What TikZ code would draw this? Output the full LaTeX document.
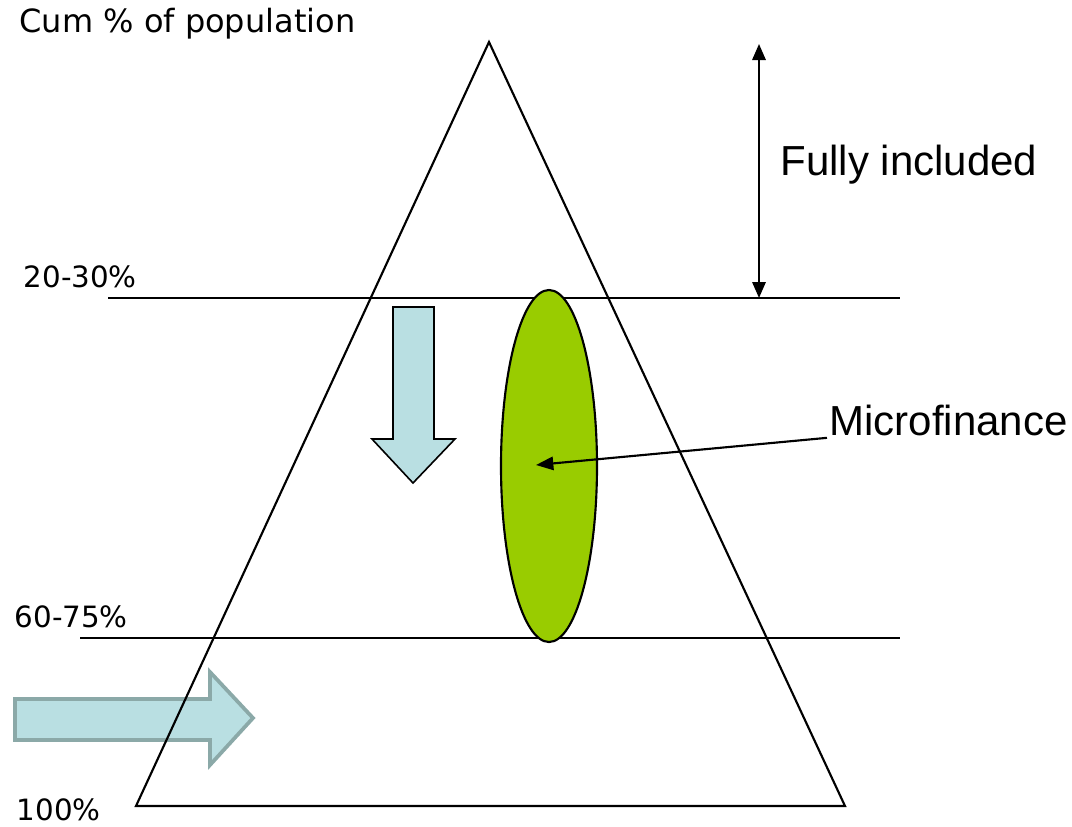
\documentclass[tikz,border=0pt]{standalone}
\usepackage{fontspec}
\usepackage{tikz}
\usetikzlibrary{arrows.meta,shapes.geometric}
\newfontfamily\tahfont{DejaVu Sans}
\newfontfamily\arfont{Liberation Sans}
\definecolor{MicroGreen}{HTML}{99CC00}
\definecolor{FlowCyan}{HTML}{B9DFE2}
\definecolor{FlowEdge}{HTML}{8BA9A8}

\begin{document}
\begin{tikzpicture}[x=0.75pt, y=-0.75pt, line width=1.6pt]
    \useasboundingbox (0,0) rectangle (1072,826);
    % flow arrows
    \fill[FlowCyan, draw=FlowEdge, line width=2.8pt, line join=miter]
      (15,699) -- (210,699) -- (210,672) -- (253,718) -- (210,765)
      -- (210,740) -- (15,740) -- cycle;
    \fill[FlowCyan, draw=black, line width=1.2pt, line join=miter]
      (393,307) -- (434,307) -- (434,439) -- (455,439) -- (413,483)
      -- (372,439) -- (393,439) -- cycle;
    % pyramid
    \coordinate (apex) at (489,42);
    \coordinate (bl) at (136,806);
    \coordinate (br) at (845,806);
    \draw (apex) -- (bl) -- (br) -- cycle;
    \foreach \name/\x/\y in {lineA/108/298, lineB/80/638} {
      \coordinate (\name) at (\x,\y);
    }
    \coordinate (lineAend) at (900,298);
    \coordinate (lineBend) at (900,638);
    \draw (lineA) -- (lineAend);
    \draw (lineB) -- (lineBend);
    % labels on the left
    \node[font=\tahfont\fontsize{24}{27}\selectfont, anchor=west] (cum) at (14,24) {Cum \% of population};
    \foreach \name/\x/\y/\txt in {pA/20/277/20-30\%, pB/11/617/60-75\%, pC/13/810/100\%} {
      \node[font=\tahfont\fontsize{22}{25}\selectfont, anchor=west, inner sep=2pt] (\name) at (\x,\y) {\txt};
    }
    % microfinance
    \node[ellipse, draw=black, fill=MicroGreen, line width=1.6pt,
      minimum width=72pt, minimum height=264pt, inner sep=0pt] (micro) at (549,466) {};
    \coordinate (microtip) at (536,465);
    \node[font=\arfont\fontsize{31.5}{36}\selectfont, anchor=west, inner sep=1pt] (mflabel) at (827,420) {Microfinance};
    \draw[-{Triangle[length=13pt, width=10pt]}] (mflabel.south west) -- (microtip);
    % fully included
    \coordinate (inctop) at (759,44);
    \coordinate (incbot) at (759,298);
    \draw[{Triangle[length=12pt, width=10pt]}-{Triangle[length=12pt, width=10pt]}] (inctop) -- (incbot);
    \node[font=\arfont\fontsize{31.5}{36}\selectfont, anchor=west, inner sep=1pt] (inclabel) at (778,165) {Fully included};
\end{tikzpicture}
\end{document}
